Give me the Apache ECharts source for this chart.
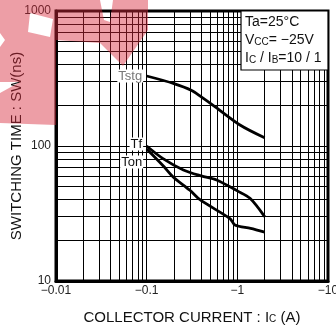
<!DOCTYPE html>
<html>
<head>
<meta charset="utf-8">
<script src="https://cdn.jsdelivr.net/npm/echarts@6/dist/echarts.min.js"></script>
<style>
  html, body { margin: 0; padding: 0; background: #fff; }
  #main { width: 336px; height: 330px; }
</style>
</head>
<body>
<div id="main"></div>
<script>
// collector current (A, shown negative) and switching times (ns)
const tstgI = [0.1, 0.2, 0.31, 0.4, 0.57, 1.07, 2];
const tstgT = [330, 290, 259, 231, 195, 143, 115];
const tfI = [0.1, 0.15, 0.254, 0.4, 0.59, 1.0, 1.38, 2];
const tfT = [100, 81, 66.5, 60, 56, 46.5, 41, 30];
const tonI = [0.1, 0.15, 0.196, 0.3, 0.387, 0.83, 0.94, 1.4, 2];
const tonT = [95, 72, 59, 47, 40, 29, 26, 24.5, 23];

// log grid positions
const xGrid = [0.02, 0.03, 0.04, 0.05, 0.06, 0.07, 0.08, 0.09, 0.1,
  0.2, 0.3, 0.4, 0.5, 0.6, 0.7, 0.8, 0.9, 1,
  2, 3, 4, 5, 6, 7, 8, 9];
const yGrid = [20, 30, 40, 50, 60, 70, 80, 90, 100,
  200, 300, 400, 500, 600, 700, 800, 900];

const font = 'Liberation Sans, Arial, sans-serif';

function pairs(xs, ys) {
  return xs.map((x, i) => [x, ys[i]]);
}

// first point carries the curve name
function withLabel(data, name, offset) {
  data[0] = {
    value: data[0],
    symbol: 'circle',
    symbolSize: 1,
    itemStyle: { color: '#000' },
    label: {
      show: true, position: 'left', distance: 3, offset: offset,
      formatter: name, color: name === 'Tstg' ? '#777' : '#111',
      fontSize: 13, fontFamily: font,
      backgroundColor: '#fff', padding: [0, 1]
    }
  };
  return data;
}

function curve(name, data, offset) {
  return {
    name: name,
    type: 'line',
    smooth: 0.3,
    symbol: 'none',
    showSymbol: true,
    z: 5,
    lineStyle: { color: '#000', width: 2.8 },
    data: withLabel(data, name, offset)
  };
}

const chart = echarts.init(document.getElementById('main'), null, { renderer: 'canvas' });

const wm = 'rgba(214,40,57,0.45)';

chart.setOption({
  animation: false,
  grid: {
    left: 56, right: 8, top: 11, bottom: 49,
    containLabel: false, outerBoundsMode: 'none',
    show: true, borderColor: '#000', borderWidth: 3, backgroundColor: 'transparent'
  },
  xAxis: {
    type: 'log', logBase: 10, min: 0.01, max: 10,
    name: 'COLLECTOR CURRENT : I{s|C} (A)',
    nameLocation: 'middle', nameGap: 29, nameMoveOverlap: false,
    nameTextStyle: {
      fontSize: 15, color: '#111', fontFamily: font,
      rich: { s: { fontSize: 10, color: '#111', fontFamily: font, padding: [4, 0, 0, 0] } }
    },
    axisLine: { lineStyle: { color: '#000', width: 3 } },
    axisTick: { show: false },
    splitLine: { show: false },
    axisLabel: {
      fontSize: 12, color: '#222', fontFamily: font, margin: 4,
      formatter: v => '\u2212' + v
    }
  },
  yAxis: {
    type: 'log', logBase: 10, min: 10, max: 1000,
    name: 'SWITCHING TIME : SW(ns)',
    nameLocation: 'middle', nameGap: 32, nameMoveOverlap: false,
    nameTextStyle: { fontSize: 15, color: '#111', fontFamily: font },
    axisLine: { lineStyle: { color: '#000', width: 3 } },
    axisTick: { show: false },
    splitLine: { show: false },
    axisLabel: { fontSize: 12, color: '#222', fontFamily: font, margin: 5, formatter: v => String(v) }
  },
  series: [
    {
      // grid lines
      type: 'line',
      data: [],
      z: 1,
      silent: true,
      markLine: {
        silent: true,
        symbol: ['none', 'none'],
        label: { show: false },
        lineStyle: { type: 'solid', color: '#000', width: 1 },
        emphasis: { disabled: true },
        data: xGrid.map(v => ({ xAxis: v })).concat(yGrid.map(v => ({ yAxis: v })))
      }
    },
    curve('Tstg', pairs(tstgI, tstgT), [0, 0]),
    curve('Tf', pairs(tfI, tfT), [0, -2]),
    curve('Ton', pairs(tonI, tonT), [0, 13])
  ],
  graphic: [
    {
      type: 'rect', z: 50,
      shape: { x: 241, y: 11, width: 87, height: 59 },
      style: { fill: '#fff', stroke: '#000', lineWidth: 1.2 }
    },
    {
      type: 'text', z: 51, left: 245, top: 13,
      style: {
        text: 'Ta=25°C\nV{s|CC}= \u221225V\nI{s|C} / I{s|B}=10 / 1',
        font: '14px ' + font, fill: '#111', lineHeight: 18,
        rich: { s: { fontSize: 10, fill: '#111', fontFamily: font, padding: [4, 0, 0, 0] } }
      }
    },
    // watermark, left part with the white square cut out
    {
      type: 'polygon', z: 100, silent: true,
      shape: { points: [[0, 0], [56, 0], [56, 125], [0, 123], [0, 93], [20, 82], [0, 82], [0, 47], [5, 40], [0, 33],
        [0, 25], [28, 32], [50, 37], [53, 19], [30, 13], [28, 32], [0, 25]] },
      style: { fill: wm }
    },
    // watermark, top of plot area
    {
      type: 'polygon', z: 100, silent: true,
      shape: { points: [[56, 0], [100, 0], [104, 20], [110, 22], [113, 0], [148, 0], [148, 30], [123, 66], [100, 43], [56, 40]] },
      style: { fill: wm }
    }
  ]
});
</script>
</body>
</html>
